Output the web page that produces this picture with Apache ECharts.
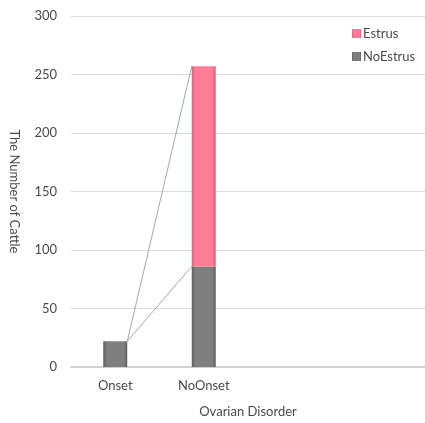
<!DOCTYPE html>
<html>
<head>
<meta charset="utf-8">
<script src="https://cdn.jsdelivr.net/npm/echarts@6/dist/echarts.min.js"></script>
<style>
  html, body { margin: 0; padding: 0; background: #fff; overflow: hidden; }
  #chart { width: 425px; height: 423px; }
</style>
</head>
<body>
<div id="chart"></div>
<script>
// Ovarian disorder groups (two trailing empty slots keep the wide plot area)
const categories = ['Onset', 'NoOnset', '', ''];
const noEstrus = [22, 86, null, null];
const estrus = [0, 171, null, null];
const yTicks = { min: 0, max: 300, step: 50 };

const BAR_W = 24;

function barGradient(edge, mid) {
  return new echarts.graphic.LinearGradient(0, 0, 1, 0, [
    { offset: 0, color: edge },
    { offset: 0.15, color: mid },
    { offset: 0.85, color: mid },
    { offset: 1, color: edge }
  ]);
}

// Series lines: join stack boundaries of neighbouring bars
const seriesLineData = [];
for (let i = 0; i < categories.length - 1; i++) {
  if (noEstrus[i] == null || noEstrus[i + 1] == null) continue;
  const a1 = noEstrus[i], b1 = noEstrus[i + 1];
  const a2 = noEstrus[i] + estrus[i], b2 = noEstrus[i + 1] + estrus[i + 1];
  seriesLineData.push([i, a1, i + 1, b1]);
  seriesLineData.push([i, a2, i + 1, b2]);
}

const textColor = '#4a4a4a';

const chart = echarts.init(document.getElementById('chart'));
chart.setOption({
  animation: false,
  textStyle: { fontFamily: 'Lato, "Open Sans", sans-serif' },
  grid: { left: 65, right: 0, top: 16, bottom: 53 },
  legend: {
    data: ['Estrus', 'NoEstrus'],
    orient: 'vertical',
    left: 347,
    top: 22,
    itemWidth: 9,
    itemHeight: 9,
    itemGap: 10,
    icon: 'rect',
    textStyle: { fontSize: 13, color: textColor, padding: [0, 0, 0, -3] }
  },
  xAxis: {
    type: 'category',
    data: categories,
    name: 'Ovarian Disorder',
    nameLocation: 'middle',
    nameGap: 38,
    nameTextStyle: { fontSize: 13, color: textColor },
    axisTick: { show: false },
    axisLine: { lineStyle: { color: '#d0d0d0', width: 2 } },
    axisLabel: { fontSize: 13, color: textColor, margin: 12 }
  },
  yAxis: {
    type: 'value',
    min: yTicks.min,
    max: yTicks.max,
    interval: yTicks.step,
    name: 'The Number of Cattle',
    nameLocation: 'middle',
    nameRotate: -90,
    nameGap: 50,
    nameTextStyle: { fontSize: 13, color: textColor },
    axisLine: { show: false },
    axisTick: { show: false },
    axisLabel: { fontSize: 13, color: textColor, margin: 14 },
    splitLine: { lineStyle: { color: '#dcdcdc', width: 1 } }
  },
  series: [
    {
      name: 'NoEstrus',
      type: 'bar',
      stack: 'total',
      barWidth: BAR_W,
      data: noEstrus,
      itemStyle: { color: barGradient('#5f5f5f', '#7f7f7f') },
      z: 3
    },
    {
      name: 'Estrus',
      type: 'bar',
      stack: 'total',
      barWidth: BAR_W,
      data: estrus,
      itemStyle: { color: barGradient('#e0607c', '#ff7d96') },
      z: 3
    },
    {
      name: 'seriesLines',
      type: 'custom',
      silent: true,
      z: 2,
      data: seriesLineData,
      renderItem: function (params, api) {
        const p1 = api.coord([api.value(0), api.value(1)]);
        const p2 = api.coord([api.value(2), api.value(3)]);
        return {
          type: 'line',
          shape: { x1: p1[0] + BAR_W / 2, y1: p1[1], x2: p2[0] - BAR_W / 2, y2: p2[1] },
          style: { stroke: '#a6a6a6', lineWidth: 1 }
        };
      }
    }
  ]
});
</script>
</body>
</html>
